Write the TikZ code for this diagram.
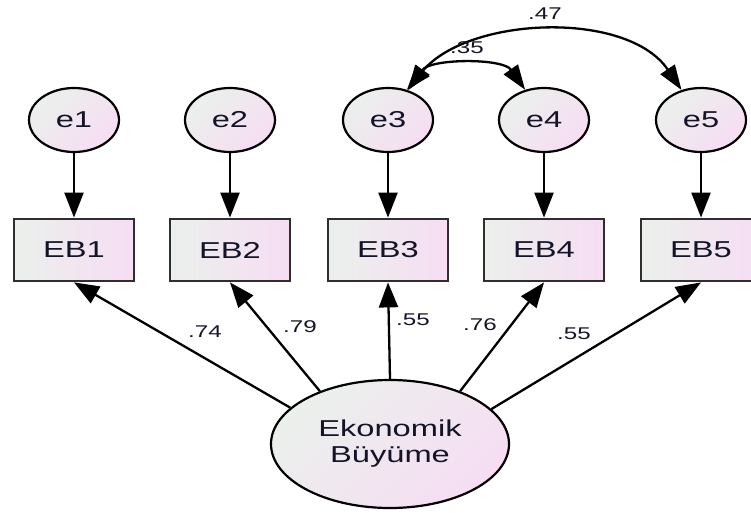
\documentclass[tikz,border=0pt]{standalone}
\usepackage{fontspec}
\setmainfont{Liberation Sans}
\usetikzlibrary{arrows.meta,shapes.geometric}

\definecolor{shgrey}{HTML}{EBF0EC}
\definecolor{shpink}{HTML}{F6DDF3}
\definecolor{ink}{HTML}{141428}

% text in this model is set wide
\newcommand\widetext[1]{\scalebox{1.42}[1]{#1}}

\tikzset{
  latent/.style={ellipse, draw=black, line width=2.2pt, inner sep=0pt,
    minimum width=90pt, minimum height=64pt,
    left color=shgrey, right color=shpink, shading angle=45,
    text=ink, font=\fontsize{23}{27}\selectfont},
  factor/.style={latent, minimum width=238pt, minimum height=128pt,
    align=center},
  observed/.style={rectangle, draw=black!82, line width=2.8pt, inner sep=0pt,
    minimum width=120pt, minimum height=62pt,
    left color=shgrey, right color=shpink,
    text=ink, font=\fontsize{23}{27}\selectfont},
  regpath/.style={line width=2.3pt, -{Triangle[length=25pt,width=19pt]}},
  covpath/.style={line width=2.3pt,
    {Triangle[length=25pt,width=17pt]}-{Triangle[length=25pt,width=17pt]}},
  coef/.style={text=ink, inner sep=0pt, font=\fontsize{17}{20}\selectfont}
}

\begin{document}
\begin{tikzpicture}[x=1pt,y=1pt]
\useasboundingbox (0,0) rectangle (751,-513);

% error terms
\node[latent] (e1) at (74,-120)  {\widetext{e1}};
\node[latent] (e2) at (230,-120) {\widetext{e2}};
\node[latent] (e3) at (388,-120) {\widetext{e3}};
\node[latent] (e4) at (544,-120) {\widetext{e4}};
\node[latent] (e5) at (701,-120) {\widetext{e5}};

% observed indicators
\node[observed] (EB1) at (74,-250)  {\widetext{EB1}};
\node[observed] (EB2) at (230,-250) {\widetext{EB2}};
\node[observed] (EB3) at (388,-250) {\widetext{EB3}};
\node[observed] (EB4) at (544,-250) {\widetext{EB4}};
\node[observed] (EB5) at (701,-250) {\widetext{EB5}};

% latent factor
\node[factor] (F) at (390,-444) {\widetext{Ekonomik}\\[-1pt]\widetext{Büyüme}};

% error paths
\draw[regpath] (e1) -- (EB1);
\draw[regpath] (e2) -- (EB2);
\draw[regpath] (e3) -- (EB3);
\draw[regpath] (e4) -- (EB4);
\draw[regpath] (e5) -- (EB5);

% factor loadings
\draw[regpath] (F.160) -- (EB1.south);
\draw[regpath] (F.143) -- (EB2.south);
\draw[regpath] (F.north) -- (EB3.south);
\draw[regpath] (F.37)  -- (EB4.south);
\draw[regpath] (F.19)  -- (EB5.south);

% error covariances
\draw[covpath] (e3.56) to[out=55,in=125,looseness=0.85] (e4.122);
\draw[covpath] (e3.58) to[out=50,in=124,looseness=0.9] (e5.123);

% estimates
\node[coef] (c1) at (205,-332) {\widetext{.74}};
\node[coef] (c2) at (300,-327) {\widetext{.79}};
\node[coef] (c3) at (413,-320) {\widetext{.55}};
\node[coef] (c4) at (480,-325) {\widetext{.76}};
\node[coef] (c5) at (574,-334) {\widetext{.55}};
\node[coef] (c34) at (467,-48) {\widetext{.35}};
\node[coef] (c35) at (545,-14) {\widetext{.47}};
\end{tikzpicture}
\end{document}
